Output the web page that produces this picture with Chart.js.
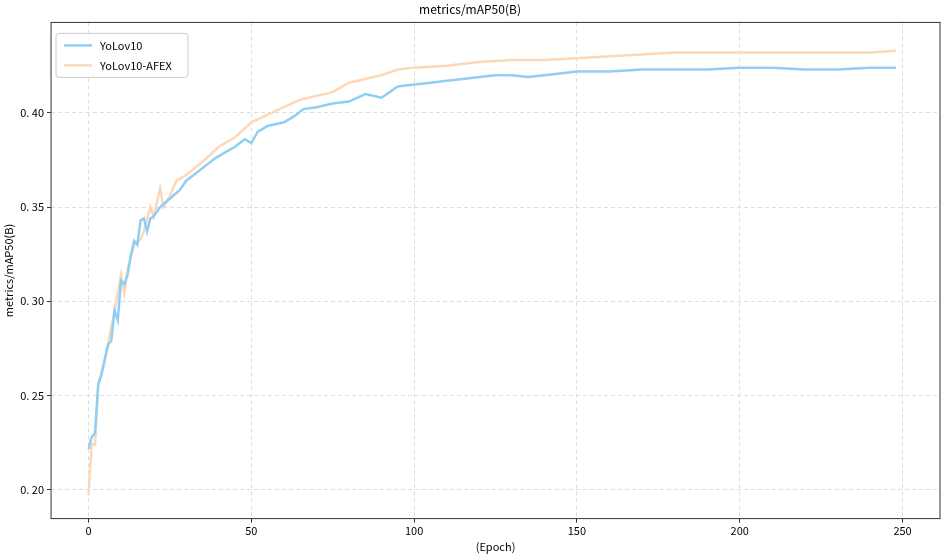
<!DOCTYPE html>
<html lang="en">
<head>
  <meta charset="UTF-8" />
  <title>metrics/mAP50(B)</title>
  <style>
    body { margin: 0; background: #fff; }
  </style>
</head>
<body>
  <canvas id="chart" width="944" height="555"></canvas>
  <script src="https://cdn.jsdelivr.net/npm/chart.js"></script>
  <script>
    // values
    const epochs = [0,1,2,3,4,5,6,7,8,9,10,11,12,13,14,15,16,17,18,19,20,22,24,26,28,30,33,36,39,42,45,48,50,52,55,60,63,66,70,75,80,85,90,95,100,105,110,115,120,125,130,135,140,150,160,170,180,190,200,210,220,230,240,248];
    const yolov10 = [0.2216,0.228,0.230,0.256,0.261,0.269,0.277,0.279,0.295,0.290,0.311,0.309,0.314,0.324,0.332,0.330,0.343,0.344,0.337,0.344,0.345,0.350,0.353,0.356,0.359,0.364,0.368,0.372,0.376,0.379,0.382,0.386,0.384,0.390,0.393,0.395,0.398,0.402,0.403,0.405,0.406,0.410,0.408,0.414,0.415,0.416,0.417,0.418,0.419,0.420,0.420,0.419,0.420,0.422,0.422,0.423,0.423,0.423,0.424,0.424,0.423,0.423,0.424,0.424];
    const afexEpochs = [0,1,2,3,5,8,10,11,12,14,16,17,19,20,22,23,25,27,30,35,40,45,50,55,60,65,70,75,80,85,90,95,100,110,120,130,140,150,160,170,180,200,220,240,248];
    const afex = [0.197,0.224,0.224,0.256,0.269,0.295,0.314,0.304,0.317,0.330,0.333,0.337,0.350,0.345,0.360,0.350,0.356,0.364,0.367,0.374,0.382,0.387,0.395,0.399,0.403,0.407,0.409,0.411,0.416,0.418,0.420,0.423,0.424,0.425,0.427,0.428,0.428,0.429,0.430,0.431,0.432,0.432,0.432,0.432,0.433];

    const font = "'Noto Sans CJK SC', 'DejaVu Sans Mono', monospace";

    function pts(xs, ys) {
      return xs.map((x, i) => ({ x: x, y: ys[i] }));
    }

    // legend box inside the plot + black frame
    const framePlugin = {
      id: 'frame',
      afterDraw(chart) {
        const c = chart.ctx, a = chart.chartArea;
        c.save();
        c.strokeStyle = '#333';
        c.lineWidth = 1;
        c.strokeRect(a.left, a.top, a.right - a.left, a.bottom - a.top);
        const x = a.left + 5, y = a.top + 11;
        c.fillStyle = 'rgba(255,255,255,0.85)';
        c.strokeStyle = '#ccc';
        c.beginPath();
        c.roundRect(x, y, 132, 44, 3);
        c.fill(); c.stroke();
        c.font = "11px " + font;
        c.textBaseline = 'middle';
        chart.data.datasets.forEach((ds, i) => {
          const ly = y + 12 + i * 20;
          c.strokeStyle = ds.borderColor;
          c.lineWidth = 2.5;
          c.beginPath(); c.moveTo(x + 8, ly); c.lineTo(x + 36, ly); c.stroke();
          c.fillStyle = '#000';
          c.fillText(ds.label, x + 44, ly);
        });
        c.restore();
      }
    };

    new Chart(document.getElementById('chart'), {
      type: 'line',
      data: {
        datasets: [
          { label: 'YoLov10', data: pts(epochs, yolov10), borderColor: '#8fcff6', borderWidth: 2.5, pointRadius: 0, tension: 0 },
          { label: 'YoLov10-AFEX', data: pts(afexEpochs, afex), borderColor: '#fdd8b8', borderWidth: 2.5, pointRadius: 0, tension: 0 }
        ]
      },
      options: {
        responsive: false,
        animation: false,
        layout: { padding: { right: 4, bottom: 2, top: 0 } },
        plugins: {
          legend: { display: false },
          tooltip: { enabled: false },
          title: { display: true, text: 'metrics/mAP50(B)', color: '#000', font: { family: font, size: 12, weight: 'normal' }, padding: { top: 2, bottom: 6 } }
        },
        scales: {
          x: {
            type: 'linear', min: -11.5, max: 261.5,
            afterBuildTicks(s) { s.ticks = [0, 50, 100, 150, 200, 250].map(v => ({ value: v })); },
            grid: { color: '#ddd', drawTicks: true, tickColor: '#333', tickLength: 4 },
            border: { display: false, dash: [4, 3] },
            ticks: { color: '#000', font: { family: font, size: 11 }, padding: 2 },
            title: { display: true, text: '(Epoch)', color: '#000', font: { family: font, size: 11 }, padding: 0 }
          },
          y: {
            min: 0.1847, max: 0.448,
            afterBuildTicks(s) { s.ticks = [0.20, 0.25, 0.30, 0.35, 0.40].map(v => ({ value: v })); },
            grid: { color: '#ddd', tickColor: '#333', tickLength: 4 },
            border: { display: false, dash: [4, 3] },
            ticks: { color: '#000', font: { family: font, size: 11 }, callback: v => v.toFixed(2).replace('.', '. ') },
            title: { display: true, text: 'metrics/mAP50(B)', color: '#000', font: { family: font, size: 11 }, padding: 2 }
          }
        }
      },
      plugins: [framePlugin]
    });
  </script>
</body>
</html>
